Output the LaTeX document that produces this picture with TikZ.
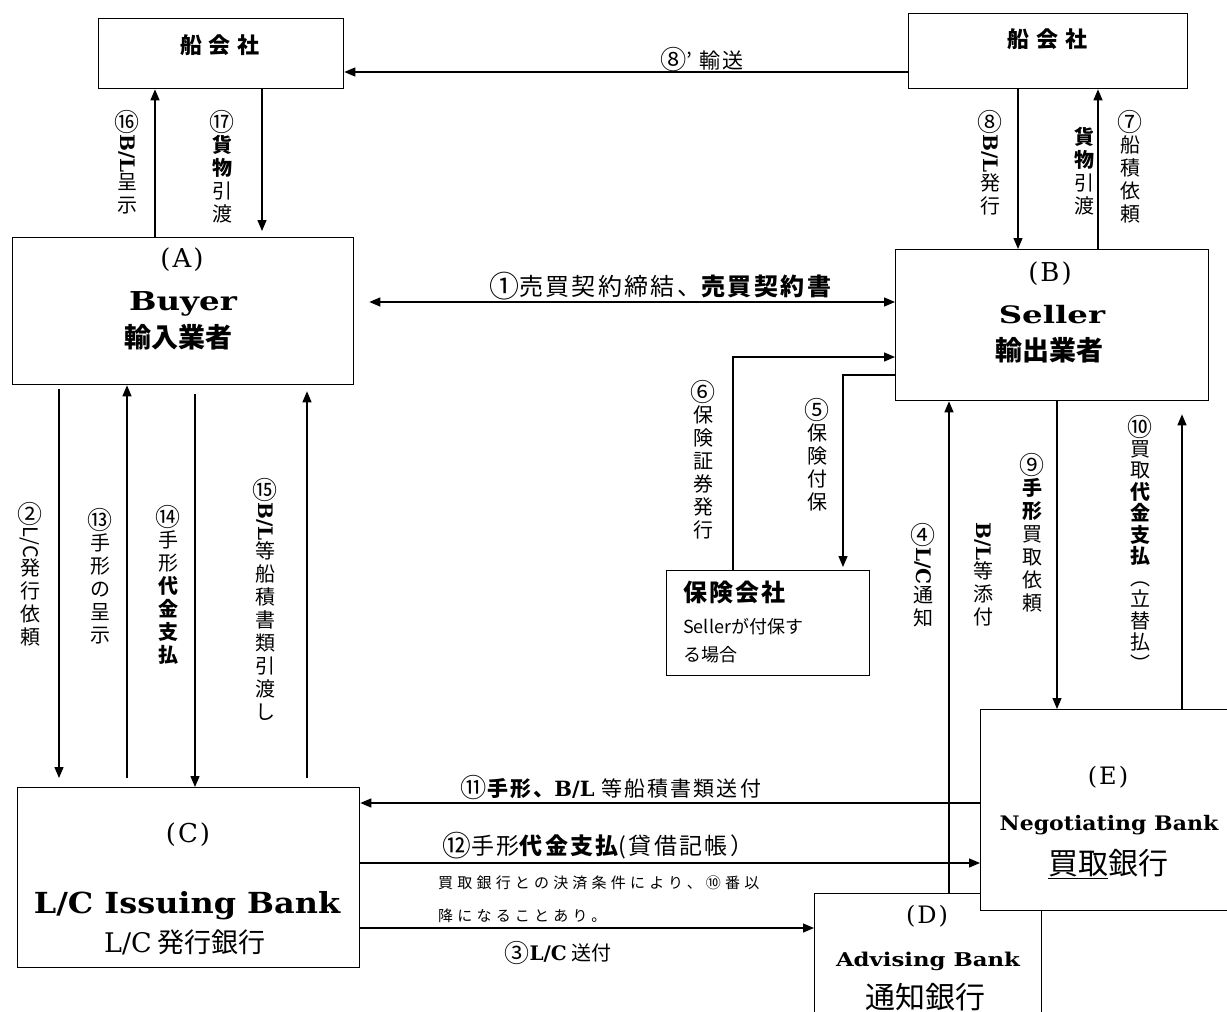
\documentclass[tikz,border=0pt]{standalone}
\usepackage{fontspec}
\usepackage{graphicx}
\usetikzlibrary{arrows.meta,calc}
\newfontfamily\jp{Noto Sans CJK JP}
\newfontfamily\jpw[LetterSpace=10]{Noto Sans CJK JP}
\newfontfamily\jpn[LetterSpace=28]{Noto Sans CJK JP}
\newfontfamily\ser{DejaVu Serif}
\newcommand{\vrot}[1]{\rotatebox[origin=c]{-90}{#1}}
\newcommand{\cn}[1]{\raisebox{-0.08em}{\scalebox{1.25}{#1}}}
\newcommand{\myBL}{{\ser\bfseries B/L}}
\newcommand{\myLC}{{\ser\bfseries L/C}}
\tikzset{
  box/.style={draw, line width=1.3pt, fill=white, inner sep=0pt, anchor=north west},
  arr/.style={line width=1.3pt, -{Triangle[length=11pt,width=9pt]}},
  dbl/.style={line width=1.3pt, {Triangle[length=11pt,width=9pt]}-{Triangle[length=11pt,width=9pt]}},
  vlab/.style={anchor=north, inner sep=0pt, align=center, font=\jp\fontsize{20}{23}\selectfont},
  hlab/.style={inner sep=0pt},
}
\begin{document}
\begin{tikzpicture}[x=1pt,y=-1pt]
\useasboundingbox (0,0) rectangle (1227,1012);
\clip (0,0) rectangle (1227,1012);
\fill[white] (0,0) rectangle (1227,1012);

% boxes
\node[box, minimum width=245pt, minimum height=70pt] (shipA) at (98,18) {};
\node[box, minimum width=279pt, minimum height=75pt] (shipB) at (908,13) {};
\node[box, minimum width=341pt, minimum height=147pt] (buyer) at (12,237) {};
\node[box, minimum width=313pt, minimum height=151pt] (seller) at (895,249) {};
\node[box, minimum width=203pt, minimum height=105pt] (ins) at (666,570) {};
\node[box, minimum width=342pt, minimum height=180pt] (cbank) at (17,787) {};
\node[box, minimum width=227pt, minimum height=160pt] (dbank) at (814,893) {};
\node[box, minimum width=280pt, minimum height=201pt] (ebank) at (980,709) {};

% box texts
\node[hlab, font=\jp\bfseries\fontsize{22}{22}\selectfont] (tA) at (220,45) {船\hspace{7pt}会\hspace{7pt}社};
\node[hlab, font=\jp\bfseries\fontsize{22}{22}\selectfont] (tB) at (1047,39) {船\hspace{7pt}会\hspace{7pt}社};

\node[hlab, font=\ser\fontsize{26}{26}\selectfont] (aA) at (182,260) {(\kern2pt A\kern2pt)};
\node[hlab, anchor=base] (aB) at (183,310) {\scalebox{1.25}[1]{\ser\bfseries\fontsize{26}{26}\selectfont Buyer}};
\node[hlab, font=\jp\bfseries\fontsize{27}{27}\selectfont] (aJ) at (178,337) {輸入業者};

\node[hlab, font=\ser\fontsize{26}{26}\selectfont] (bA) at (1050,274) {(\kern2pt B\kern2pt)};
\node[hlab, anchor=base] (bB) at (1052,323) {\scalebox{1.35}[1]{\ser\bfseries\fontsize{24}{24}\selectfont Seller}};
\node[hlab, font=\jp\bfseries\fontsize{27}{27}\selectfont] (bJ) at (1049,350) {輸出業者};

\node[hlab, font=\ser\fontsize{26}{26}\selectfont] (cA) at (188,835) {(\kern2pt C\kern2pt)};
\node[hlab, anchor=base] (cB) at (187,913) {\scalebox{1.1}[1]{\ser\bfseries\fontsize{29}{29}\selectfont L/C Issuing Bank}};
\node[hlab, font=\jp\fontsize{27}{27}\selectfont] (cJ) at (185,942) {{\ser L/C} 発行銀行};

\node[hlab, font=\ser\fontsize{24}{24}\selectfont] (dA) at (927,916) {(\kern2pt D\kern2pt)};
\node[hlab, anchor=base] (dB) at (928,966) {\scalebox{1.2}[1]{\ser\bfseries\fontsize{19}{19}\selectfont Advising Bank}};
\node[hlab, font=\jp\fontsize{30}{30}\selectfont] (dJ) at (925,997) {通知銀行};

\node[hlab, font=\ser\fontsize{24}{24}\selectfont] (eA) at (1108,777) {(\kern2pt E\kern2pt)};
\node[hlab, anchor=base] (eB) at (1109,830) {\scalebox{1.1}[1]{\ser\bfseries\fontsize{20}{20}\selectfont Negotiating Bank}};
\node[hlab, font=\jp\fontsize{30}{30}\selectfont] (eJ) at (1108,864) {\underline{買取}銀行};

\node[hlab, anchor=west, font=\jp\bfseries\fontsize{24}{24}\selectfont] (iA) at (683,592) {保\hspace{2pt}険\hspace{2pt}会\hspace{2pt}社};
\node[hlab, anchor=west, font=\jp\fontsize{18}{18}\selectfont] (iB) at (683,627) {Sellerが付保す};
\node[hlab, anchor=west, font=\jp\fontsize{18}{18}\selectfont] (iC) at (683,655) {る場合};

% connectors
\draw[arr] (shipB.west |- 0,72) -- (shipA.east |- 0,72);
\draw[arr] (buyer.north -| 155,0) -- (shipA.south -| 155,0);
\draw[arr, shorten >=6pt] (shipA.south -| 262,0) -- (buyer.north -| 262,0);
\draw[arr] (shipB.south -| 1018,0) -- (seller.north -| 1018,0);
\draw[arr] (seller.north -| 1098,0) -- (shipB.south -| 1098,0);
\draw[dbl, shorten <=15pt] (buyer.east |- 0,302) -- (seller.west |- 0,302);
\draw[arr] (ins.north -| 733,0) |- (seller.west |- 0,357);
\draw[arr, shorten >=3pt] (seller.west |- 0,375) -| (ins.north -| 843,0);
\draw[arr] (dbank.north -| 949,0) -- (seller.south -| 949,0);
\draw[arr] (seller.south -| 1057,0) -- (ebank.north -| 1057,0);
\draw[arr, shorten >=13pt] (ebank.north -| 1182,0) -- (seller.south -| 1182,0);
\draw[arr, shorten <=4pt, shorten >=9pt] (buyer.south -| 59,0) -- (cbank.north -| 59,0);
\draw[arr, shorten <=9pt] (cbank.north -| 127,0) -- (buyer.south -| 127,0);
\draw[arr, shorten <=9pt] (buyer.south -| 195,0) -- (cbank.north -| 195,0);
\draw[arr, shorten <=9pt, shorten >=6pt] (cbank.north -| 307,0) -- (buyer.south -| 307,0);
\draw[arr] (ebank.west |- 0,803) -- (cbank.east |- 0,803);
\draw[arr] (cbank.east |- 0,863) -- (ebank.west |- 0,863);
\draw[arr] (cbank.east |- 0,928) -- (dbank.west |- 0,928);

% horizontal labels
\node[hlab, font=\jpw\fontsize{21}{21}\selectfont] (l8p) at (702,60) {\cn{⑧}’ 輸送};
\node[hlab, font=\jpw\fontsize{24}{24}\selectfont] (l1) at (660,286) {\cn{①}売買契約締結、{\bfseries 売買契約書}};
\node[hlab, font=\jpw\fontsize{21}{21}\selectfont] (l11) at (611,788) {\cn{⑪}{\bfseries 手形、}\myBL\ 等船積書類送付};
\node[hlab, font=\jpw\fontsize{23}{23}\selectfont] (l12) at (598,846) {\cn{⑫}手形{\bfseries 代金支払}(貸借記帳）};
\node[hlab, anchor=west, font=\jpn\fontsize{15}{15}\selectfont] (n1) at (438,883) {買取銀行との決済条件により、⑩番以};
\node[hlab, anchor=west, font=\jpn\fontsize{15}{15}\selectfont] (n2) at (438,916) {降になることあり。};
\node[hlab, font=\jp\fontsize{20}{20}\selectfont] (l3) at (558,953) {\cn{③}\myLC\ 送付};

% vertical labels
\node[vlab] (v16) at (127,110) {\cn{⑯}\\\vrot{\myBL}\\呈\\示};
\node[vlab] (v17) at (222,110) {\cn{⑰}\\{\bfseries 貨}\\{\bfseries 物}\\引\\渡};
\node[vlab] (v8) at (990,110) {\cn{⑧}\\\vrot{\myBL}\\発\\行};
\node[vlab] (v7a) at (1084,127) {{\bfseries 貨}\\{\bfseries 物}\\引\\渡};
\node[vlab] (v7) at (1130,110) {\cn{⑦}\\船\\積\\依\\頼};
\node[vlab] (v6) at (703,380) {\cn{⑥}\\保\\険\\証\\券\\発\\行};
\node[vlab] (v5) at (817,398) {\cn{⑤}\\保\\険\\付\\保};
\node[vlab] (v4) at (923,523) {\cn{④}\\\vrot{\myLC}\\通\\知};
\node[vlab] (v4b) at (983,522) {\vrot{\myBL}\\等\\添\\付};
\node[vlab] (v9) at (1032,453) {\cn{⑨}\\{\bfseries 手}\\{\bfseries 形}\\買\\取\\依\\頼};
\node[vlab, font=\jp\fontsize{20}{21.5}\selectfont] (v10) at (1140,415) {\cn{⑩}\\買\\取\\{\bfseries 代}\\{\bfseries 金}\\{\bfseries 支}\\{\bfseries 払}\\︵\\立\\替\\払\\︶};
\node[vlab] (v2) at (30,502) {\cn{②}\\\vrot{L/C}\\発\\行\\依\\頼};
\node[vlab] (v13) at (100,508) {\cn{⑬}\\手\\形\\の\\呈\\示};
\node[vlab] (v14) at (168,505) {\cn{⑭}\\手\\形\\{\bfseries 代}\\{\bfseries 金}\\{\bfseries 支}\\{\bfseries 払}};
\node[vlab] (v15) at (265,478) {\cn{⑮}\\\vrot{\myBL}\\等\\船\\積\\書\\類\\引\\渡\\し};
\end{tikzpicture}
\end{document}
